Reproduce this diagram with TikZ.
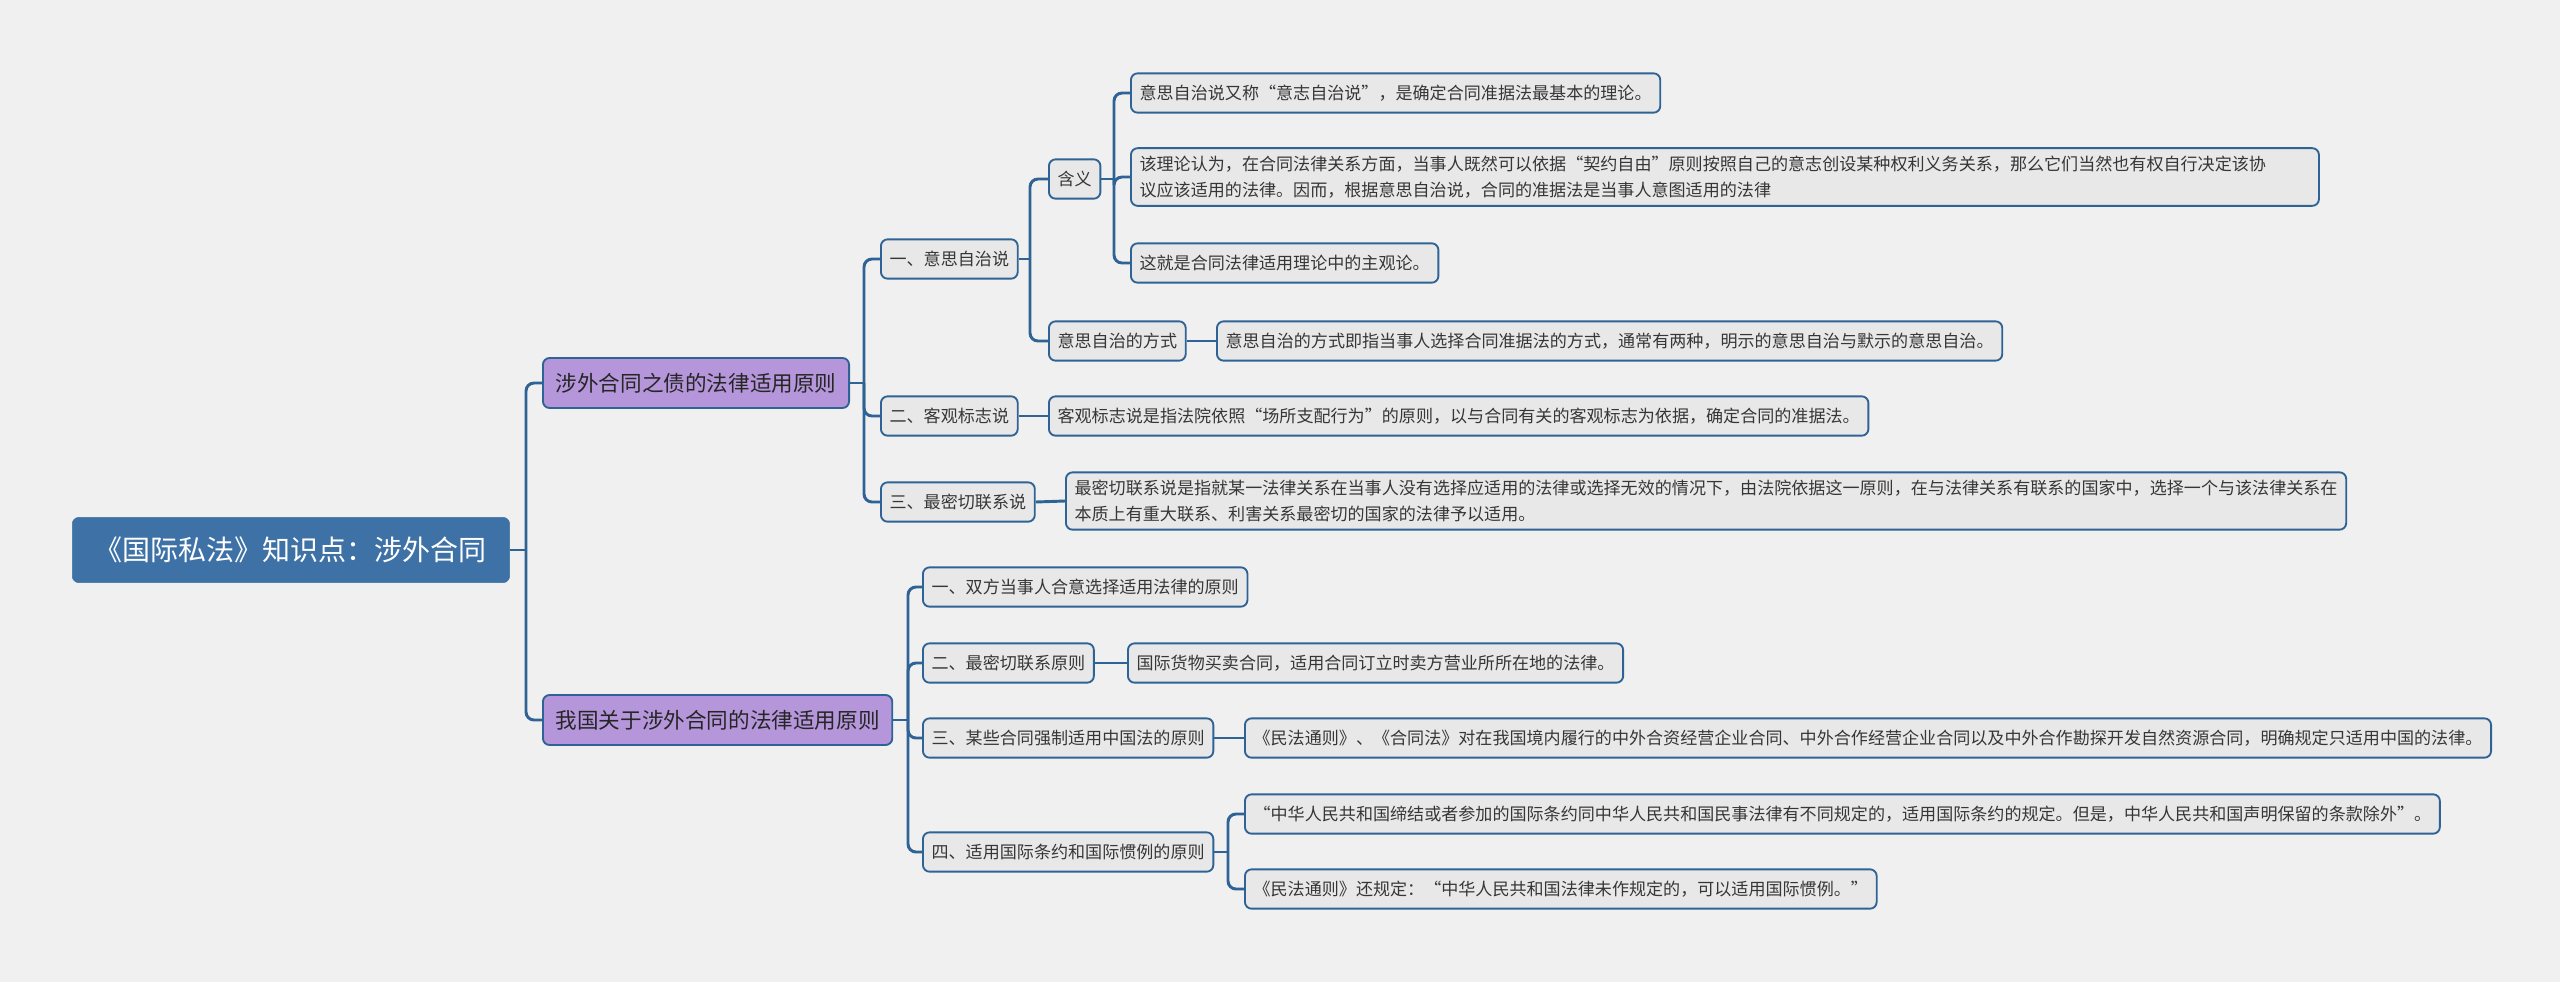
\documentclass[tikz,border=0pt]{standalone}
\usepackage{fontspec}
\setmainfont{Noto Sans CJK SC}
\usepackage{tikz}
\usetikzlibrary{backgrounds}
\definecolor{mapline}{HTML}{2F6395}
\definecolor{mapback}{HTML}{F0F0F0}
\definecolor{maproot}{HTML}{3E72A6}
\definecolor{maptopic}{HTML}{B596DA}
\definecolor{mapleaf}{HTML}{E8E8E8}
\definecolor{maptext}{HTML}{363636}
\newcommand{\linecolor}{mapline}
\newcommand{\branchw}{2.2pt}
\newcommand{\boxw}{1.4pt}
\tikzset{
rootbox/.style={fill=maproot, draw=maproot, rounded corners=5pt, text=white, font=\fontsize{21pt}{25pt}\selectfont, minimum height=49pt, inner xsep=17pt, anchor=west},
topicbox/.style={fill=maptopic, draw=\linecolor, line width=\boxw, rounded corners=5pt, text=black!85, font=\fontsize{16.2pt}{20pt}\selectfont, minimum height=37.5pt, inner xsep=9.5pt, anchor=west},
itembox/.style={fill=mapleaf, draw=\linecolor, line width=\boxw, rounded corners=5pt, text=maptext, font=\fontsize{12.8pt}{19pt}\selectfont, minimum height=29.5pt, inner xsep=6.5pt, inner ysep=6pt, align=left, anchor=west},
branch/.style={draw=\linecolor, line width=\branchw, rounded corners=6pt}
}

\begin{document}
\begin{tikzpicture}[x=0.75pt, y=-0.75pt]
\useasboundingbox (0,0) rectangle (2560,982);
%root and main topics
\node[rootbox] (root) at (72, 550) {《国际私法》知识点：涉外合同};
\node[topicbox] (a) at (542, 383) {涉外合同之债的法律适用原则};
\node[topicbox] (b) at (542, 720) {我国关于涉外合同的法律适用原则};
%a
\node[itembox] (a1) at (880, 259) {一、意思自治说};
\node[itembox] (a2) at (880, 416) {二、客观标志说};
\node[itembox] (a3) at (880, 502) {三、最密切联系说};
\node[itembox] (a11) at (1048, 179) {含义};
\node[itembox] (a12) at (1048, 341) {意思自治的方式};
\node[itembox] (a111) at (1130, 93) {意思自治说又称“意志自治说”，是确定合同准据法最基本的理论。};
\node[itembox] (a112) at (1130, 177) [text width=878pt] {该理论认为，在合同法律关系方面，当事人既然可以依据“契约自由”原则按照自己的意志创设某种权利义务关系，那么它们当然也有权自行决定该协\\议应该适用的法律。因而，根据意思自治说，合同的准据法是当事人意图适用的法律};
\node[itembox] (a113) at (1130, 263) {这就是合同法律适用理论中的主观论。};
\node[itembox] (a121) at (1216, 341) {意思自治的方式即指当事人选择合同准据法的方式，通常有两种，明示的意思自治与默示的意思自治。};
\node[itembox] (a21) at (1048, 416) {客观标志说是指法院依照“场所支配行为”的原则，以与合同有关的客观标志为依据，确定合同的准据法。};
\node[itembox] (a31) at (1065, 501) {最密切联系说是指就某一法律关系在当事人没有选择应适用的法律或选择无效的情况下，由法院依据这一原则，在与法律关系有联系的国家中，选择一个与该法律关系在\\本质上有重大联系、利害关系最密切的国家的法律予以适用。};
%b
\node[itembox] (b1) at (922, 587) {一、双方当事人合意选择适用法律的原则};
\node[itembox] (b2) at (922, 663) {二、最密切联系原则};
\node[itembox] (b3) at (922, 738) {三、某些合同强制适用中国法的原则};
\node[itembox] (b4) at (922, 852) {四、适用国际条约和国际惯例的原则};
\node[itembox] (b21) at (1127, 663) {国际货物买卖合同，适用合同订立时卖方营业所所在地的法律。};
\node[itembox] (b31) at (1244, 738) {《民法通则》、《合同法》对在我国境内履行的中外合资经营企业合同、中外合作经营企业合同以及中外合作勘探开发自然资源合同，明确规定只适用中国的法律。};
\node[itembox] (b41) at (1244, 814) {“中华人民共和国缔结或者参加的国际条约同中华人民共和国民事法律有不同规定的，适用国际条约的规定。但是，中华人民共和国声明保留的条款除外”。};
\node[itembox] (b42) at (1244, 889) {《民法通则》还规定：“中华人民共和国法律未作规定的，可以适用国际惯例。”};
%forks
\coordinate (rootfork) at (526, 550);
\coordinate (afork) at (864, 383);
\coordinate (a1fork) at (1030, 259);
\coordinate (a11fork) at (1114, 179);
\coordinate (bfork) at (908, 720);
\coordinate (b4fork) at (1228, 852);
%connectors
\begin{scope}[on background layer]
\fill[mapback] (0,0) rectangle (2560,982);
\draw[branch] (root.east) -- (rootfork);
\draw[branch] (rootfork) |- (a.west);
\draw[branch] (rootfork) |- (b.west);
\draw[branch] (a.east) -- (afork);
\draw[branch] (afork) |- (a1.west);
\draw[branch] (afork) |- (a2.west);
\draw[branch] (afork) |- (a3.west);
\draw[branch] (a1.east) -- (a1fork);
\draw[branch] (a1fork) |- (a11.west);
\draw[branch] (a1fork) |- (a12.west);
\draw[branch] (a11.east) -- (a11fork);
\draw[branch] (a11fork) |- (a111.west);
\draw[branch] (a11fork) |- (a112.west);
\draw[branch] (a11fork) |- (a113.west);
\draw[branch] (a12.east) -- (a121.west);
\draw[branch] (a2.east) -- (a21.west);
\draw[branch] (a3.east) -- (a31.west);
\draw[branch] (b.east) -- (bfork);
\draw[branch] (bfork) |- (b1.west);
\draw[branch] (bfork) |- (b2.west);
\draw[branch] (bfork) |- (b3.west);
\draw[branch] (bfork) |- (b4.west);
\draw[branch] (b2.east) -- (b21.west);
\draw[branch] (b3.east) -- (b31.west);
\draw[branch] (b4.east) -- (b4fork);
\draw[branch] (b4fork) |- (b41.west);
\draw[branch] (b4fork) |- (b42.west);
\end{scope}
\end{tikzpicture}
\end{document}
